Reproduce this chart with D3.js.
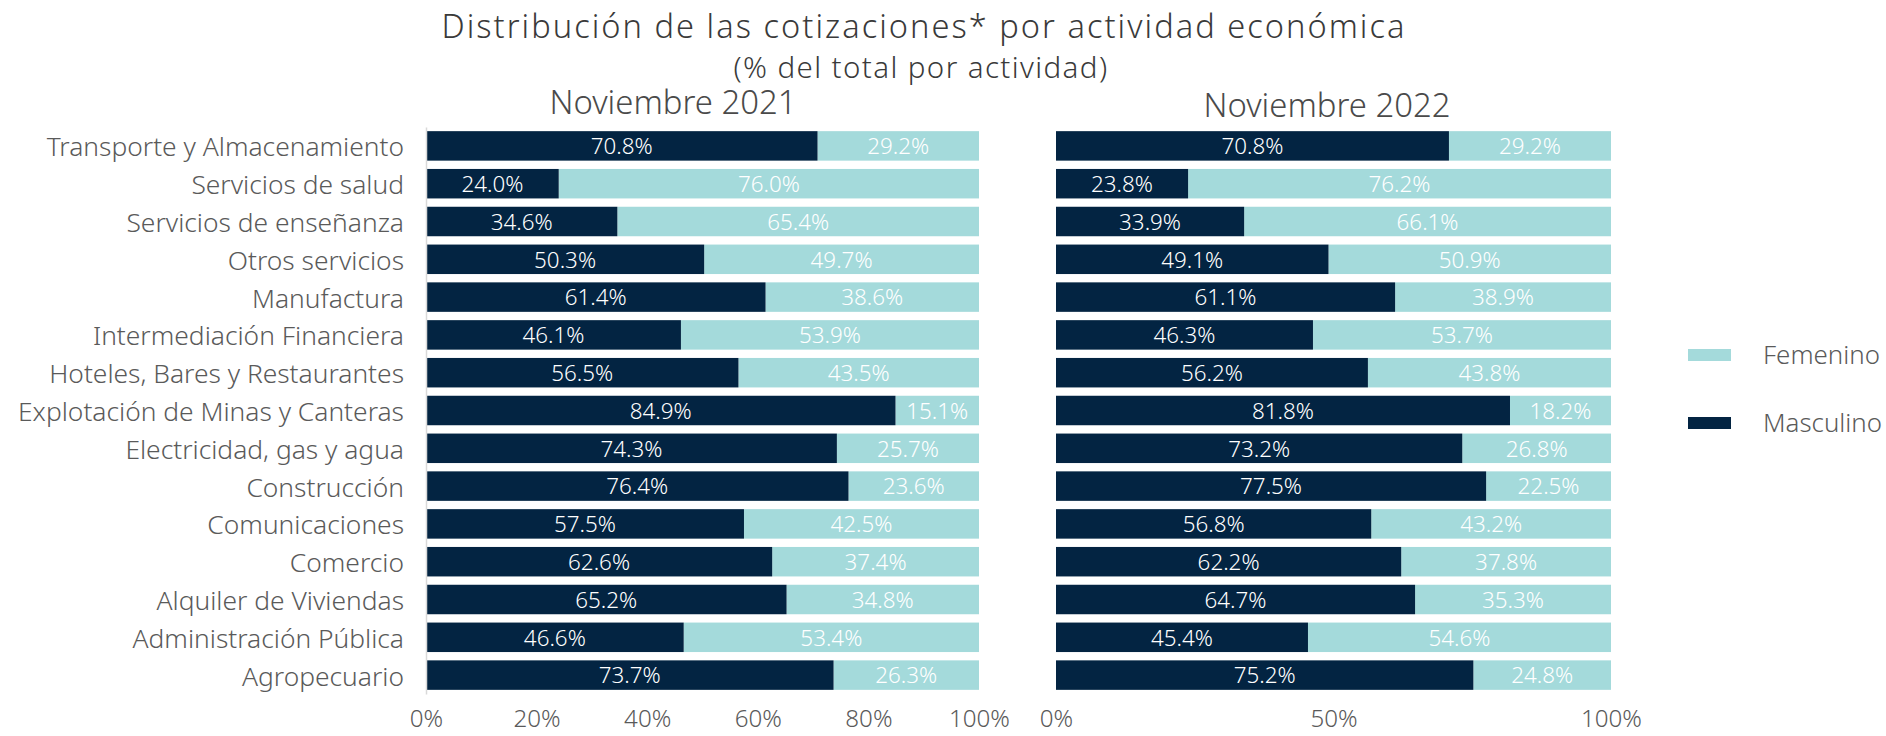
<!DOCTYPE html>
<html><head><meta charset="utf-8">
<script src="https://cdn.jsdelivr.net/npm/d3@7"></script>
<style>
body{margin:0;background:#fff;}
text{font-family:"Noto Sans",sans-serif;font-weight:300;}
</style></head>
<body><svg id="c" width="1886" height="736"></svg>
<script>
const categories = ["Transporte y Almacenamiento","Servicios de salud","Servicios de enseñanza","Otros servicios","Manufactura","Intermediación Financiera","Hoteles, Bares y Restaurantes","Explotación de Minas y Canteras","Electricidad, gas y agua","Construcción","Comunicaciones","Comercio","Alquiler de Viviendas","Administración Pública","Agropecuario"];
const masc2021 = [70.8,24.0,34.6,50.3,61.4,46.1,56.5,84.9,74.3,76.4,57.5,62.6,65.2,46.6,73.7];
const fem2021  = [29.2,76.0,65.4,49.7,38.6,53.9,43.5,15.1,25.7,23.6,42.5,37.4,34.8,53.4,26.3];
const masc2022 = [70.8,23.8,33.9,49.1,61.1,46.3,56.2,81.8,73.2,77.5,56.8,62.2,64.7,45.4,75.2];
const fem2022  = [29.2,76.2,66.1,50.9,38.9,53.7,43.8,18.2,26.8,22.5,43.2,37.8,35.3,54.6,24.8];
const ticks2021 = [0,20,40,60,80,100];
const ticks2022 = [0,50,100];
const seriesNames = ["Femenino","Masculino"];

const DARK="#032442", LIGHT="#a4dadb", GREY="#5a5a5a";
const svg = d3.select("#c");

function sizeFor(str, target, base){
  const t = svg.append("text").attr("font-size",base).text(str);
  const w = t.node().getComputedTextLength();
  t.remove();
  return base*target/w;
}
function spreadTo(sel, target){
  const w = sel.node().getComputedTextLength();
  const n = sel.text().length;
  sel.attr("letter-spacing", (target-w)/n);
}
const fsCat = sizeFor("Explotación de Minas y Canteras", 386, 24);
const fsVal = sizeFor("70.8%", 62, 24);
const fsTick = sizeFor("100%", 61, 24);
const fsLeg = sizeFor("Femenino", 117, 24);
const fsPanel = sizeFor("Noviembre 2021", 247, 28);
const fsTitle = sizeFor("Distribución de las cotizaciones* por actividad económica", 965, 30)*0.88;
const fsSub = sizeFor("(% del total por actividad)", 375, 26)*0.9;

const y = d3.scaleBand(categories,[127,694]).paddingInner(0.22).paddingOuter(0.11);

function panel(x, masc, fem, ticks, title, titleX, titleY, showCats){
  const g = svg.append("g");
  const rows = categories.map((c,i)=>({c, m:masc[i], f:fem[i]}));
  g.selectAll("rect.f").data(rows).join("rect")
    .attr("x", d=>x(d.m)).attr("width", d=>x(100)-x(d.m))
    .attr("y", d=>y(d.c)).attr("height", y.bandwidth()).attr("fill", LIGHT);
  g.selectAll("rect.m").data(rows).join("rect")
    .attr("x", x(0)).attr("width", d=>x(d.m)-x(0))
    .attr("y", d=>y(d.c)).attr("height", y.bandwidth()).attr("fill", DARK);
  g.selectAll("text.lm").data(rows).join("text")
    .attr("x", d=>(x(0)+x(d.m))/2).attr("y", d=>y(d.c)+y.bandwidth()/2)
    .attr("dy","0.37em").attr("text-anchor","middle").attr("fill","#fff")
    .attr("font-size",fsVal).text(d=>d.m.toFixed(1)+"%");
  g.selectAll("text.lf").data(rows).join("text")
    .attr("x", d=>(x(d.m)+x(100))/2).attr("y", d=>y(d.c)+y.bandwidth()/2)
    .attr("dy","0.37em").attr("text-anchor","middle").attr("fill","#fff")
    .attr("font-size",fsVal).text(d=>d.f.toFixed(1)+"%");
  const ax = g.append("g").attr("transform","translate(0,694)")
    .call(d3.axisBottom(x).tickValues(ticks).tickFormat(d=>d+"%").tickSize(0).tickPadding(16));
  ax.select(".domain").remove();
  ax.selectAll("text").attr("font-size",fsTick).attr("fill",GREY)
    .attr("font-family","'Noto Sans',sans-serif").attr("font-weight",300);
  if(showCats){
    const ay = g.append("g").attr("transform",`translate(${x(0)},0)`)
      .call(d3.axisLeft(y).tickSize(0).tickPadding(22).tickSizeOuter(0));
    ay.select(".domain").attr("stroke","#d9d9d9").attr("stroke-width",1.5);
    ay.selectAll("text").attr("font-size",fsCat).attr("fill",GREY).attr("dy","0.4em")
      .attr("font-family","'Noto Sans',sans-serif").attr("font-weight",300);
  }
  svg.append("text").attr("x",titleX).attr("y",titleY).attr("dy","0.36em")
    .attr("text-anchor","middle").attr("fill","#4a4a4a").attr("font-size",fsPanel).text(title);
}

const xL = d3.scaleLinear([0,100],[426,979]);
const xR = d3.scaleLinear([0,100],[1056,1611]);
panel(xL, masc2021, fem2021, ticks2021, "Noviembre 2021", 673, 102, true);
panel(xR, masc2022, fem2022, ticks2022, "Noviembre 2022", 1327, 105, false);

const t1 = svg.append("text").attr("x",924).attr("y",26).attr("dy","0.36em")
  .attr("text-anchor","middle").attr("fill","#3a3a3a").attr("font-size",fsTitle)
  .text("Distribución de las cotizaciones* por actividad económica");
spreadTo(t1, 965);
const t2 = svg.append("text").attr("x",921).attr("y",67).attr("dy","0.36em")
  .attr("text-anchor","middle").attr("fill","#3a3a3a").attr("font-size",fsSub)
  .text("(% del total por actividad)");
spreadTo(t2, 375);

const leg = svg.append("g");
const legColors = [LIGHT, DARK];
leg.selectAll("rect").data(seriesNames).join("rect")
  .attr("x",1688).attr("y",(d,i)=>349+i*68).attr("width",43).attr("height",12)
  .attr("fill",(d,i)=>legColors[i]);
leg.selectAll("text").data(seriesNames).join("text")
  .attr("x",1763).attr("y",(d,i)=>355+i*68).attr("dy","0.36em")
  .attr("fill",GREY).attr("font-size",fsLeg).text(d=>d);
</script></body></html>
